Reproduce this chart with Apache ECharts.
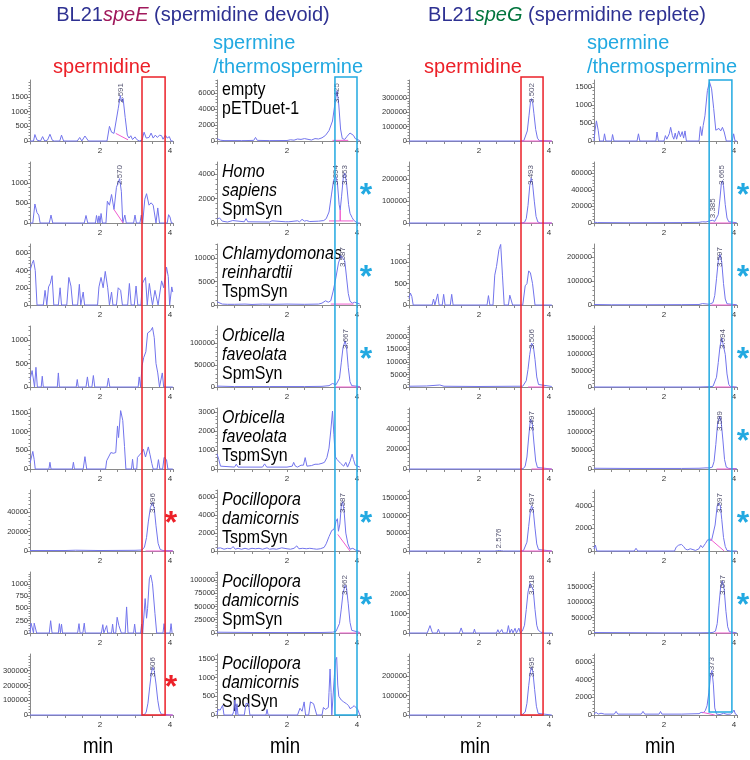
<!DOCTYPE html>
<html lang="en">
<head>
<meta charset="UTF-8">
<title>BL21 speE / speG polyamine chromatograms</title>
<script src="https://cdn.jsdelivr.net/npm/echarts@6/dist/echarts.min.js"></script>
<style>html,body{margin:0;padding:0;background:#fff}</style>
</head>
<body>
<div id="main" style="width:750px;height:760px;"></div>
<script type="text/javascript">
// traces: [retention time (min), signal]
// column 1: BL21speE, spermidine window
var eSpd = [
  [[0,0],[0.1,0],[0.14,220],[0.2,30],[0.25,0],[0.3,0],[0.36,150],[0.42,0],[0.5,30],[0.57,230],[0.64,20],[0.7,0],[0.85,0],[0.9,200],[0.96,0],[1.35,0],[1.42,120],[1.48,0],[1.52,60],[1.57,170],[1.62,150],[1.67,0],[2.2,0],[2.27,500],[2.33,300],[2.4,260],[2.45,300],[2.52,1100],[2.58,1550],[2.62,1350],[2.66,1450],[2.72,800],[2.78,200],[2.83,100],[2.88,180],[2.93,50],[3.0,140],[3.05,50],[3.12,0],[3.2,30],[3.26,300],[3.32,100],[3.4,120],[3.46,270],[3.52,100],[3.58,200],[3.64,120],[3.7,200],[3.76,180],[3.8,60],[3.87,200],[3.92,100],[3.98,150],[4.03,0],[4.08,0]],
  [[0,0],[0.08,0],[0.14,480],[0.2,260],[0.25,200],[0.29,0],[0.55,0],[0.6,200],[0.65,0],[1.55,0],[1.6,190],[1.65,0],[1.87,0],[1.9,190],[1.94,0],[1.97,180],[2.0,0],[2.03,240],[2.07,0],[2.17,0],[2.21,550],[2.27,450],[2.33,720],[2.4,340],[2.47,900],[2.56,1120],[2.61,800],[2.65,0],[2.68,0],[2.71,200],[2.75,0],[2.96,0],[3.0,200],[3.04,0],[3.14,0],[3.18,200],[3.22,0],[3.28,600],[3.33,740],[3.4,450],[3.46,510],[3.52,450],[3.56,480],[3.6,0],[3.65,380],[3.7,0],[3.92,0],[3.96,210],[4.0,150],[4.04,0],[4.08,0]],
  [[0,400],[0.06,480],[0.1,520],[0.15,400],[0.2,0],[0.38,0],[0.43,170],[0.48,0],[0.53,210],[0.58,250],[0.63,340],[0.68,0],[0.81,0],[0.86,200],[0.9,0],[1.05,0],[1.11,320],[1.17,220],[1.22,0],[1.36,0],[1.41,240],[1.45,0],[1.49,0],[1.52,150],[1.56,0],[1.93,0],[1.97,210],[2.03,320],[2.09,200],[2.15,390],[2.22,200],[2.27,0],[2.3,0],[2.33,150],[2.37,0],[2.47,0],[2.52,200],[2.59,170],[2.64,0],[2.79,0],[2.84,250],[2.89,0],[2.98,0],[3.03,220],[3.08,0],[3.17,0],[3.21,250],[3.26,290],[3.3,320],[3.35,0],[3.37,0],[3.41,250],[3.46,100],[3.5,0],[3.54,0],[3.57,170],[3.62,160],[3.66,0],[3.71,0],[3.76,280],[3.82,200],[3.9,440],[3.95,330],[3.99,0],[4.05,210],[4.08,150]],
  [[0,150],[0.02,190],[0.06,350],[0.1,340],[0.13,0],[0.17,420],[0.21,0],[0.32,0],[0.35,230],[0.38,0],[0.78,0],[0.81,300],[0.84,0],[1.32,0],[1.35,160],[1.38,0],[1.6,0],[1.64,215],[1.68,0],[1.77,0],[1.81,245],[1.85,0],[2.2,0],[2.24,190],[2.28,0],[3.09,0],[3.12,215],[3.16,0],[3.2,450],[3.25,630],[3.31,750],[3.36,1150],[3.41,1130],[3.45,1200],[3.5,1270],[3.55,1050],[3.6,500],[3.65,300],[3.7,0],[3.74,0],[3.78,300],[3.82,0],[4.08,0]],
  [[0,150],[0.04,200],[0.08,470],[0.12,250],[0.15,0],[0.54,0],[0.57,180],[0.6,0],[1.21,0],[1.24,180],[1.27,0],[1.52,0],[1.57,330],[1.62,0],[2.16,0],[2.19,220],[2.24,220],[2.31,440],[2.38,420],[2.45,440],[2.5,1150],[2.53,840],[2.59,1560],[2.65,1300],[2.7,600],[2.74,0],[2.9,0],[2.93,260],[2.96,0],[3.05,0],[3.07,310],[3.12,260],[3.19,440],[3.24,530],[3.3,320],[3.38,590],[3.43,380],[3.48,150],[3.52,0],[3.63,0],[3.67,250],[3.71,0],[3.79,0],[3.83,310],[3.9,250],[3.94,0],[4.08,0]],
  [[0,500],[1.0,500],[1.3,800],[2.0,500],[3.0,700],[3.2,1000],[3.27,4000],[3.33,14000],[3.38,30000],[3.44,45000],[3.5,50000],[3.55,44000],[3.6,26000],[3.66,8000],[3.72,1500],[3.8,500],[4.08,300]],
  [[0,0],[0.03,200],[0.07,200],[0.1,0],[0.12,200],[0.16,200],[0.19,0],[0.55,0],[0.59,250],[0.63,0],[0.81,0],[0.84,190],[0.87,0],[0.9,180],[0.93,0],[1.36,0],[1.4,190],[1.43,0],[1.51,0],[1.55,200],[1.58,0],[2.04,0],[2.08,170],[2.11,0],[2.16,0],[2.19,150],[2.22,0],[2.33,0],[2.36,180],[2.39,0],[2.45,0],[2.49,320],[2.54,150],[2.58,180],[2.61,0],[2.72,0],[2.76,530],[2.8,0],[2.96,0],[2.99,180],[3.02,0],[3.16,0],[3.19,180],[3.22,0],[3.25,0],[3.29,700],[3.33,300],[3.36,500],[3.41,1100],[3.45,1180],[3.5,1000],[3.57,400],[3.62,0],[3.8,0],[3.83,190],[3.86,0],[4.0,0],[4.03,190],[4.06,0],[4.08,0]],
  [[0,0],[3.2,0],[3.27,3000],[3.32,20000],[3.37,80000],[3.42,190000],[3.47,290000],[3.51,322000],[3.55,300000],[3.6,210000],[3.65,100000],[3.7,30000],[3.75,6000],[3.8,1000],[4.08,0]]
];
// column 2: BL21speE, spermine / thermospermine window
var eSpm = [
  [[0,300],[0.1,100],[0.2,50],[0.7,50],[0.75,250],[0.8,50],[1.05,80],[1.1,450],[1.15,80],[1.5,50],[2.0,60],[2.1,150],[2.2,100],[2.3,250],[2.4,200],[2.5,300],[2.55,150],[2.7,120],[2.8,300],[2.9,250],[3.0,400],[3.1,700],[3.2,1300],[3.3,2500],[3.38,5000],[3.43,6300],[3.48,4500],[3.53,1500],[3.58,300],[3.65,200],[3.72,600],[3.8,1000],[3.85,1200],[3.9,700],[3.95,300],[4.0,100],[4.08,50]],
  [[0,300],[0.07,420],[0.15,150],[0.3,80],[0.45,200],[0.5,80],[0.78,100],[0.83,360],[0.88,100],[1.5,80],[1.57,180],[1.62,80],[1.95,100],[2.0,200],[2.05,100],[2.3,180],[2.36,100],[2.43,300],[2.5,150],[2.56,200],[2.6,320],[2.65,120],[2.9,150],[3.05,200],[3.12,350],[3.2,900],[3.27,2300],[3.33,3500],[3.39,3850],[3.44,3300],[3.49,1500],[3.52,1050],[3.56,2200],[3.61,3800],[3.65,4100],[3.7,3300],[3.76,1500],[3.8,800],[3.86,450],[3.9,250],[3.95,200],[4.0,0],[4.08,0]],
  [[0,700],[0.05,600],[0.15,200],[0.3,150],[0.5,150],[0.8,200],[1.0,120],[1.3,200],[1.6,150],[2.0,200],[2.5,150],[2.9,200],[3.0,400],[3.1,900],[3.18,600],[3.25,900],[3.32,3000],[3.4,6000],[3.47,9000],[3.54,10600],[3.59,10800],[3.65,9500],[3.7,6000],[3.75,2500],[3.8,800],[3.87,400],[3.93,600],[3.98,300],[4.08,200]],
  [[0,2000],[0.5,1000],[1.5,1000],[2.5,1000],[3.0,1500],[3.2,3000],[3.3,8000],[3.35,10000],[3.4,5000],[3.45,6000],[3.5,20000],[3.55,55000],[3.6,90000],[3.66,105000],[3.7,92000],[3.75,45000],[3.8,12000],[3.85,3000],[3.9,1500],[4.08,1000]],
  [[0,800],[0.05,500],[0.1,150],[0.5,100],[0.55,250],[0.6,100],[1.3,100],[1.36,270],[1.42,100],[2.0,100],[2.15,150],[2.19,350],[2.24,150],[2.3,100],[2.4,200],[2.47,200],[2.52,600],[2.57,150],[2.7,180],[2.8,250],[2.9,250],[3.0,300],[3.07,350],[3.14,600],[3.2,1100],[3.25,2000],[3.3,3050],[3.34,1800],[3.38,650],[3.43,500],[3.48,450],[3.53,300],[3.58,250],[3.62,150],[3.68,350],[3.73,100],[3.8,400],[3.86,780],[3.9,500],[3.95,200],[4.0,100],[4.08,100]],
  [[0,300],[0.1,350],[0.2,200],[0.3,300],[0.4,250],[0.46,500],[0.52,200],[0.6,300],[0.7,200],[0.8,300],[0.85,350],[0.9,200],[1.0,300],[1.1,250],[1.2,300],[1.3,200],[1.43,350],[1.5,200],[1.6,250],[1.7,200],[1.85,350],[1.9,200],[2.0,250],[2.1,200],[2.2,300],[2.28,570],[2.34,250],[2.45,300],[2.55,250],[2.65,300],[2.75,250],[2.85,200],[2.95,250],[3.0,200],[3.06,400],[3.12,800],[3.2,1600],[3.28,2300],[3.34,2400],[3.4,3300],[3.44,3600],[3.47,2200],[3.51,3000],[3.55,5000],[3.59,5500],[3.63,4500],[3.68,2000],[3.74,800],[3.8,200],[3.88,300],[3.92,420],[3.96,100],[4.08,0]],
  [[0,1500],[1.0,1000],[2.0,800],[3.0,1000],[3.3,1500],[3.4,3000],[3.45,6000],[3.5,18000],[3.55,45000],[3.6,75000],[3.66,90000],[3.7,85000],[3.75,55000],[3.8,20000],[3.85,5000],[3.9,1500],[4.08,1000]],
  [[0,0],[0.03,150],[0.09,130],[0.16,260],[0.2,0],[0.44,0],[0.48,100],[0.51,400],[0.54,0],[0.57,300],[0.6,0],[0.78,0],[0.83,310],[0.9,300],[0.94,0],[1.4,0],[1.43,150],[1.46,0],[2.3,0],[2.37,180],[2.43,100],[2.49,350],[2.53,0],[2.62,0],[2.67,350],[2.71,320],[2.76,300],[2.8,310],[2.85,0],[3.0,0],[3.04,200],[3.1,150],[3.18,200],[3.2,600],[3.23,1230],[3.26,600],[3.28,0],[3.32,0],[3.35,1000],[3.38,1450],[3.42,1540],[3.45,800],[3.48,500],[3.55,400],[3.62,350],[3.7,300],[3.76,250],[3.8,170],[3.86,200],[3.92,250],[3.97,200],[4.02,150],[4.08,0]]
];
// column 3: BL21speG, spermidine window
var gSpd = [
  [[0,0],[3.2,0],[3.28,2000],[3.33,15000],[3.38,70000],[3.43,180000],[3.47,270000],[3.5,295000],[3.53,275000],[3.57,190000],[3.62,80000],[3.67,20000],[3.72,3000],[3.77,0],[4.08,0]],
  [[0,0],[3.22,0],[3.3,3000],[3.35,20000],[3.4,80000],[3.45,170000],[3.49,205000],[3.53,180000],[3.58,100000],[3.63,30000],[3.68,5000],[3.75,0],[4.08,0]],
  [[0,150],[0.04,280],[0.08,200],[0.12,0],[0.66,0],[0.7,140],[0.74,0],[0.78,0],[0.82,260],[0.86,0],[0.95,0],[0.99,250],[1.03,0],[1.18,0],[1.22,250],[1.26,0],[2.23,0],[2.27,220],[2.31,0],[2.4,0],[2.45,700],[2.5,900],[2.57,1300],[2.62,1420],[2.67,700],[2.72,0],[2.84,0],[2.88,230],[2.92,200],[2.96,0],[3.25,0],[3.32,450],[3.37,500],[3.42,800],[3.47,750],[3.53,500],[3.6,0],[4.08,0]],
  [[0,300],[0.5,400],[0.88,800],[1.0,300],[2.0,200],[3.0,300],[3.25,300],[3.3,800],[3.35,2500],[3.4,7000],[3.45,13000],[3.5,17500],[3.55,16500],[3.6,11000],[3.65,4000],[3.7,1000],[3.75,300],[4.08,200]],
  [[0,0],[3.2,0],[3.27,500],[3.32,3000],[3.37,12000],[3.42,32000],[3.47,50000],[3.52,46000],[3.57,26000],[3.62,8000],[3.67,1500],[3.72,200],[4.08,0]],
  [[0,0],[2.45,0],[2.52,800],[2.58,1500],[2.64,800],[2.7,0],[3.2,0],[3.27,1000],[3.32,6000],[3.37,25000],[3.42,70000],[3.47,115000],[3.5,128000],[3.55,115000],[3.6,65000],[3.65,20000],[3.7,4000],[3.75,500],[4.08,0]],
  [[0,0],[0.52,0],[0.6,380],[0.67,0],[0.8,0],[0.84,200],[0.88,0],[1.44,0],[1.49,260],[1.54,0],[1.84,0],[1.87,200],[1.9,0],[2.5,0],[2.54,170],[2.58,0],[2.62,0],[2.65,180],[2.69,0],[2.8,0],[2.84,380],[2.88,0],[2.93,200],[2.97,0],[3.0,0],[3.03,240],[3.07,0],[3.1,0],[3.14,250],[3.18,0],[3.24,100],[3.3,400],[3.35,1200],[3.4,2100],[3.46,2550],[3.51,2600],[3.55,2200],[3.6,1200],[3.65,400],[3.69,150],[3.72,170],[3.76,50],[3.79,120],[3.83,0],[4.08,0]],
  [[0,0],[3.22,0],[3.27,2000],[3.32,15000],[3.37,60000],[3.42,150000],[3.47,225000],[3.5,244000],[3.54,220000],[3.59,130000],[3.64,45000],[3.69,8000],[3.74,1000],[4.08,0]]
];
// column 4: BL21speG, spermine / thermospermine window
var gSpm = [
  [[0,0],[0.03,300],[0.07,560],[0.12,300],[0.16,0],[0.27,0],[0.3,200],[0.34,0],[0.5,0],[0.53,180],[0.57,0],[1.23,0],[1.27,200],[1.31,0],[1.77,0],[1.8,250],[1.84,0],[2.0,0],[2.04,150],[2.08,50],[2.15,200],[2.19,380],[2.24,150],[2.28,50],[2.32,220],[2.36,50],[2.42,280],[2.47,120],[2.52,260],[2.56,80],[2.6,280],[2.64,0],[3.0,0],[3.04,400],[3.08,150],[3.12,430],[3.17,700],[3.24,1400],[3.3,1640],[3.36,1450],[3.42,900],[3.48,300],[3.52,250],[3.57,350],[3.62,280],[3.67,380],[3.72,250],[3.78,0],[3.95,0],[3.99,200],[4.03,0],[4.08,0]],
  [[0,1000],[0.1,500],[1.0,300],[2.5,500],[3.0,800],[3.1,1500],[3.2,1200],[3.3,2500],[3.38,3300],[3.45,2000],[3.5,3000],[3.55,10000],[3.6,30000],[3.64,48000],[3.67,51000],[3.7,45000],[3.75,22000],[3.8,6000],[3.85,1500],[3.9,500],[4.08,300]],
  [[0,2000],[0.5,1000],[1.5,1000],[2.5,1500],[3.0,2000],[3.1,6000],[3.15,2000],[3.3,3000],[3.4,10000],[3.45,40000],[3.5,110000],[3.55,185000],[3.6,212000],[3.65,180000],[3.7,90000],[3.75,25000],[3.8,5000],[3.85,1500],[4.08,1000]],
  [[0,0],[3.0,0],[3.3,1000],[3.4,2000],[3.45,8000],[3.5,30000],[3.55,75000],[3.6,125000],[3.65,150000],[3.7,145000],[3.75,100000],[3.8,40000],[3.85,8000],[3.9,1000],[4.08,0]],
  [[0,2000],[1.0,1500],[2.5,1500],[3.0,2000],[3.2,3000],[3.25,7000],[3.3,3000],[3.38,5000],[3.43,20000],[3.48,65000],[3.53,120000],[3.59,141000],[3.63,130000],[3.68,80000],[3.73,25000],[3.78,5000],[3.85,1500],[4.08,1000]],
  [[0,200],[0.04,530],[0.08,0],[1.15,0],[1.2,240],[1.25,0],[2.3,0],[2.35,350],[2.42,520],[2.5,580],[2.56,400],[2.62,150],[2.68,100],[2.75,200],[2.8,50],[2.9,50],[3.0,200],[3.05,500],[3.1,300],[3.18,650],[3.25,1000],[3.3,1150],[3.36,950],[3.4,900],[3.46,2300],[3.52,4000],[3.57,4250],[3.61,4000],[3.65,2800],[3.7,1200],[3.75,400],[3.8,50],[3.9,0],[4.08,0]],
  [[0,1500],[1.0,1000],[2.0,500],[3.0,500],[3.3,1000],[3.4,2000],[3.47,6000],[3.52,30000],[3.57,90000],[3.62,150000],[3.67,168000],[3.72,140000],[3.77,70000],[3.82,20000],[3.87,4000],[3.92,1000],[4.08,500]],
  [[0,100],[0.06,300],[0.12,100],[0.2,200],[0.3,100],[0.58,100],[0.63,410],[0.68,100],[1.35,100],[1.4,410],[1.45,100],[1.86,100],[1.9,400],[1.94,100],[2.5,100],[3.0,150],[3.06,300],[3.12,250],[3.18,500],[3.23,1050],[3.28,2500],[3.33,4500],[3.37,5050],[3.41,3500],[3.45,800],[3.5,100],[3.6,50],[3.7,190],[3.8,80],[3.9,100],[3.96,300],[4.0,560],[4.04,100],[4.08,50]]
];

// y axis: value at the top of each panel, top labelled tick, label step (rows 1..8)
var eSpdTop = [2080, 1540, 708, 1300, 1630, 63000, 1240, 413000];
var eSpmTop = [7625, 5000, 13100, 139000, 3210, 6800, 115000, 1630];
var gSpdTop = [425000, 279000, 1430, 24300, 61000, 173000, 3130, 313000];
var gSpmTop = [1695, 73500, 256000, 187000, 163000, 5400, 197000, 6900];
var eSpdLabelMax = [1500, 1000, 600, 1000, 1500, 40000, 1000, 300000];
var eSpmLabelMax = [6000, 4000, 10000, 100000, 3000, 6000, 100000, 1500];
var gSpdLabelMax = [300000, 200000, 1000, 20000, 40000, 150000, 2000, 200000];
var gSpmLabelMax = [1500, 60000, 200000, 150000, 150000, 4000, 150000, 6000];
var eSpdStep = [500, 500, 200, 500, 500, 20000, 250, 100000];
var eSpmStep = [2000, 2000, 5000, 50000, 1000, 2000, 25000, 500];
var gSpdStep = [100000, 100000, 500, 5000, 20000, 50000, 1000, 100000];
var gSpmStep = [500, 20000, 100000, 50000, 50000, 2000, 50000, 2000];

// integrated peaks: retention time labels
var eSpdPeaks = [[2.591], [2.570], [], [], [], [3.496], [], [3.506]];
var eSpmPeaks = [[3.425], [3.394, 3.653], [3.587], [3.667], [], [3.587], [3.662], []];
var gSpdPeaks = [[3.502], [3.493], [], [3.506], [3.497], [2.576, 3.497], [3.518], [3.495]];
var gSpmPeaks = [[], [3.385, 3.665], [3.597], [3.694], [3.589], [3.597], [3.667], [3.373]];

// integration baselines [[t0, v0], [t1, v1]]
var eSpdBase = [[[2.45,260],[2.8,40]], [[2.4,340],[2.66,0]], null, null, null, [[3.3,0],[4.08,0]], null, [[3.75,0],[4.08,0]]];
var eSpmBase = [[[3.3,80],[3.75,80]], [[3.2,170],[3.52,170],[3.52,1050],[3.52,170],[3.9,170]], [[3.25,200],[3.9,200]], [[3.4,0],[4.08,0]], null, [[3.45,1850],[3.8,0]], [[3.5,0],[4.08,0]], null];
var gSpdBase = [[[3.2,0],[4.08,0]], [[3.2,0],[4.08,0]], null, [[3.4,0],[3.9,0]], [[3.5,0],[4.08,0]], [[3.2,0],[4.08,0]], null, null];
var gSpmBase = [null, [[3.3,0],[4.0,0]], [[3.35,0],[4.0,0]], [[3.45,0],[4.0,0]], [[3.5,0],[4.05,0]], [[3.3,1120],[3.72,0]], [[3.45,0],[4.0,0]], [[3.1,300],[3.45,0]]];

// constructs named in column 2
var constructs = [
  [['empty', false], ['pETDuet-1', false]],
  [['Homo', true], ['sapiens', true], ['SpmSyn', false]],
  [['Chlamydomonas', true], ['reinhardtii', true], ['TspmSyn', false]],
  [['Orbicella', true], ['faveolata', true], ['SpmSyn', false]],
  [['Orbicella', true], ['faveolata', true], ['TspmSyn', false]],
  [['Pocillopora', true], ['damicornis', true], ['TspmSyn', false]],
  [['Pocillopora', true], ['damicornis', true], ['SpmSyn', false]],
  [['Pocillopora', true], ['damicornis', true], ['SpdSyn', false]]
];
// rows carrying an asterisk, per column
var starRows = [[5, 7], [1, 2, 3, 5, 6], [], [1, 2, 3, 4, 5, 6]];
// highlighted windows (min)
var windows = [[3.2, 3.86], [3.37, 4.0], [3.2, 3.83], [3.29, 3.94]];

var traces = [eSpd, eSpm, gSpd, gSpm];
var tops = [eSpdTop, eSpmTop, gSpdTop, gSpmTop];
var labelMax = [eSpdLabelMax, eSpmLabelMax, gSpdLabelMax, gSpmLabelMax];
var steps = [eSpdStep, eSpmStep, gSpdStep, gSpmStep];
var peaks = [eSpdPeaks, eSpmPeaks, gSpdPeaks, gSpmPeaks];
var bases = [eSpdBase, eSpmBase, gSpdBase, gSpmBase];

var FONT = '"Liberation Sans", Arial, sans-serif';
var traceColor = '#7274ec', baseColor = '#f05ccf', axisColor = '#8a8a8a', tickText = '#333';
var red = '#ec2028', cyan = '#22a9e1';
var colLeft = [30, 217, 409, 594];
var zero0 = 141, pitch = 82, plotH = 61, below = 3;
var xMax = 4.08, pxMin = 35;

var chart = echarts.init(document.getElementById('main'));
var grids = [], xAxes = [], yAxes = [], series = [];

function apexNear(tr, rt) {
  var m = 0;
  tr.forEach(function (p) { if (Math.abs(p[0] - rt) <= 0.07 && p[1] > m) m = p[1]; });
  return m;
}

for (var r = 0; r < 8; r++) {
  for (var c = 0; c < 4; c++) {
    var k = grids.length;
    var zy = zero0 + r * pitch;
    var ymax = tops[c][r], ymin = -ymax * below / plotH;
    var step = steps[c][r];
    var labs = [], minors = [];
    for (var v = 0; v <= labelMax[c][r] + 1e-6; v += step) labs.push(v);
    for (var m = 0; m <= ymax; m += step / 5) minors.push(m);
    grids.push({left: colLeft[c], top: zy - plotH, width: xMax * pxMin, height: plotH + below, containLabel: false});
    xAxes.push({
      type: 'value', gridIndex: k, min: 0, max: xMax, interval: 0.5,
      axisLine: {lineStyle: {color: axisColor, width: 1}},
      axisTick: {length: 3, lineStyle: {color: axisColor}},
      axisLabel: {fontSize: 8, margin: 3, color: tickText, fontFamily: FONT,
        formatter: function (v) { return (v === 2 || v === 4) ? String(v) : ''; }},
      splitLine: {show: false}
    });
    yAxes.push({
      type: 'value', gridIndex: k, min: ymin, max: ymax, position: 'left',
      axisLine: {show: true, lineStyle: {color: axisColor, width: 1}},
      axisTick: {show: true, length: 3, customValues: labs, lineStyle: {color: axisColor}},
      axisLabel: {customValues: labs, fontSize: 7.5, margin: 2, color: tickText, fontFamily: FONT,
        formatter: function (v) { return String(v); }},
      splitLine: {show: false}
    });
    yAxes.push({
      type: 'value', gridIndex: k, min: ymin, max: ymax, position: 'left',
      axisLine: {show: false},
      axisTick: {show: true, length: 1.5, customValues: minors, lineStyle: {color: axisColor}},
      axisLabel: {show: false}, splitLine: {show: false}
    });
    var tr = traces[c][r];
    series.push({type: 'line', xAxisIndex: k, yAxisIndex: 2 * k, data: tr, symbol: 'none',
      lineStyle: {color: traceColor, width: 1}, silent: true, z: 3});
    if (bases[c][r]) {
      series.push({type: 'line', xAxisIndex: k, yAxisIndex: 2 * k, data: bases[c][r], symbol: 'none',
        lineStyle: {color: baseColor, width: 1}, silent: true, z: 4});
    }
    var pk = peaks[c][r];
    if (pk.length) {
      var pts = pk.map(function (rt) {
        var a = Math.min(apexNear(tr, rt) + ymax * 2 / plotH, ymax * (1 - 23 / plotH));
        return [rt, a, rt.toFixed(3)];
      });
      series.push({type: 'scatter', xAxisIndex: k, yAxisIndex: 2 * k, data: pts, symbolSize: 1,
        itemStyle: {color: 'rgba(0,0,0,0)'}, silent: true, z: 5,
        label: {show: true, position: 'inside', rotate: 90, align: 'left', verticalAlign: 'middle',
          fontSize: 8, color: '#2a2a4e', fontFamily: FONT,
          formatter: function (p) { return p.data[2]; }}});
    }
  }
}

chart.setOption({
  animation: false,
  grid: grids, xAxis: xAxes, yAxis: yAxes, series: series
});

var g = [];
function txt(x, y, s, size, color, align, sx) {
  g.push({type: 'text', x: x, y: y, scaleX: sx || 1, silent: true, style: {text: s, fontSize: size, fill: color,
    fontFamily: FONT, textAlign: align || 'left', textVerticalAlign: 'middle'}});
}
var navy = '#2e3192';
g.push({type: 'text', x: 193, y: 15, style: {text: '{a|BL21}{b|speE}{a| (spermidine devoid)}', textAlign: 'center', textVerticalAlign: 'middle',
  rich: {a: {fontSize: 20, fill: navy, fontFamily: FONT}, b: {fontSize: 20, fill: '#a0195c', fontStyle: 'italic', fontFamily: FONT}}}});
g.push({type: 'text', x: 567, y: 15, style: {text: '{a|BL21}{b|speG}{a| (spermidine replete)}', textAlign: 'center', textVerticalAlign: 'middle',
  rich: {a: {fontSize: 20, fill: navy, fontFamily: FONT}, b: {fontSize: 20, fill: '#00743d', fontStyle: 'italic', fontFamily: FONT}}}});
txt(102, 67, 'spermidine', 20, red, 'center');
txt(473, 67, 'spermidine', 20, red, 'center');
txt(213, 43, 'spermine', 20, cyan);
txt(213, 67, '/thermospermine', 20, cyan);
txt(587, 43, 'spermine', 20, cyan);
txt(587, 67, '/thermospermine', 20, cyan);
[98, 285, 475, 660].forEach(function (x) { txt(x, 747, 'min', 22, '#000', 'center', 0.85); });

constructs.forEach(function (lines, r) {
  var top = zero0 + r * pitch - plotH;
  lines.forEach(function (ln, i) {
    g.push({type: 'text', x: 222, y: top + 10 + i * 19, scaleX: 0.84, silent: true, style: {text: ln[0], fontSize: 19,
      fill: '#000', fontFamily: FONT, fontStyle: ln[1] ? 'italic' : 'normal', textVerticalAlign: 'middle'}});
  });
});

var starX = [171, 366, null, 743];
starRows.forEach(function (rowsList, c) {
  rowsList.forEach(function (r) {
    g.push({type: 'text', x: starX[c], y: zero0 + r * pitch - 35 + 8, silent: true, style: {text: '*', fontSize: 32,
      fontWeight: 'bold', fill: c === 0 ? red : cyan, fontFamily: FONT, textAlign: 'center', textVerticalAlign: 'middle'}});
  });
});

var boxTop = [77, 77, 77, 80], boxBottom = [715, 715, 715, 712];
windows.forEach(function (w, c) {
  var x0 = chart.convertToPixel({xAxisIndex: c}, w[0]);
  var x1 = chart.convertToPixel({xAxisIndex: c}, w[1]);
  g.push({type: 'rect', silent: true, z: 10, shape: {x: x0, y: boxTop[c], width: x1 - x0, height: boxBottom[c] - boxTop[c]},
    style: {fill: 'none', stroke: c % 2 ? cyan : red, lineWidth: 1.5}});
});

chart.setOption({graphic: g});
</script>
</body>
</html>
